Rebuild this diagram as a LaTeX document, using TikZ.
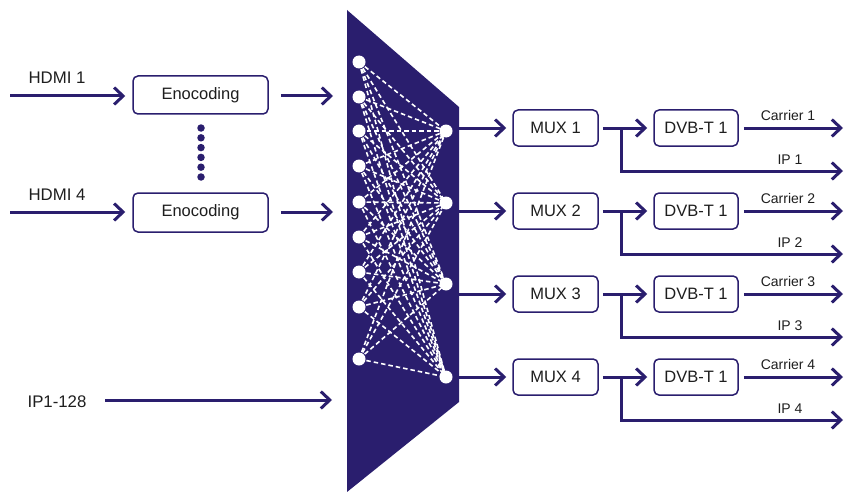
\documentclass[tikz,border=0pt]{standalone}
\usepackage{fontspec}
\setmainfont{Liberation Sans}
\usetikzlibrary{arrows.meta}
\definecolor{navy}{RGB}{42,30,110}
\definecolor{txt}{RGB}{30,30,30}
\tikzset{
  arr/.style={navy, line width=3pt, -{Straight Barb[length=9pt,width=17pt]}},
  box/.style={draw=navy, line width=1.5pt, rounded corners=5pt, fill=white, inner sep=0pt,
     text=txt, font=\fontsize{16.5}{18}\selectfont},
  encbox/.style={box, minimum width=135pt, minimum height=38pt},
  muxbox/.style={box, minimum width=85pt, minimum height=36pt},
  lbl/.style={text=txt, font=\fontsize{16.8}{18}\selectfont, inner sep=0pt},
  slbl/.style={text=txt, font=\fontsize{14}{16}\selectfont, inner sep=0pt},
  wdot/.style={circle, fill=white, minimum size=13pt, inner sep=0pt},
  vdot/.style={circle, fill=navy, minimum size=7.5pt, inner sep=0pt},
  mesh/.style={white, line width=1.6pt, dash pattern=on 4.5pt off 3pt}
}
\begin{document}
\begin{tikzpicture}[x=1pt,y=-1pt]
\useasboundingbox (0,0) rectangle (845,492);
% matrix trapezoid
\fill[navy] (347,10) -- (459,107) -- (459,402) -- (347,492) -- cycle;
% dot positions
\foreach \i/\y in {1/62,2/97,3/131,4/166,5/202,6/237,7/272,8/307,9/359}
  \coordinate (cL\i) at (359,\y);
\foreach \j/\y in {1/131,2/203,3/284,4/377}
  \coordinate (cR\j) at (446,\y);
\foreach \i in {1,...,9}
  \foreach \j in {1,...,4}
    \draw[mesh] (cL\i) -- (cR\j);
\foreach \i in {1,...,9} \node[wdot] (L\i) at (cL\i) {};
\foreach \j in {1,...,4} \node[wdot] (R\j) at (cR\j) {};
% inputs
\node[lbl] (t1) at (57,78) {HDMI 1};
\node[lbl] (t4) at (57,195) {HDMI 4};
\node[lbl] (tip) at (57,402) {IP1-128};
\node[encbox] (e1) at (200.5,95) {Enocoding};
\node[encbox, minimum height=39pt] (e4) at (200.5,212.5) {Enocoding};
\coordinate (h1) at (10,96);
\coordinate (h4) at (10,212);
\coordinate (o1) at (333,96);
\coordinate (o4) at (333,212);
\coordinate (ips) at (105,400);
\coordinate (ipe) at (332,400);
\draw[arr, shorten >=7pt] (h1) -- (h1 -| e1.west);
\draw[arr, shorten >=7pt] (h4) -- (h4 -| e4.west);
\draw[arr, shorten <=12pt] (o1 -| e1.east) -- (o1);
\draw[arr, shorten <=12pt] (o4 -| e4.east) -- (o4);
\draw[arr] (ips) -- (ipe);
\foreach \k in {0,...,5}
  \node[vdot] (v\k) at (201,128+9.8*\k) {};
% outputs
\foreach \j/\y/\n in {1/128/1,2/211/2,3/294/3,4/377/4}{
  \node[muxbox] (m\j) at (555.5,\y) {MUX \n};
  \node[muxbox, minimum width=84pt] (d\j) at (696,\y) {DVB-T 1};
  \coordinate (b\j) at (621,\y);
  \coordinate (ce\j) at (843,\y);
  \coordinate (ie\j) at (843,\y+43);
  \draw[arr, shorten <=1pt, shorten >=6pt] (R\j.east |- m\j.west) -- (m\j.west);
  \draw[arr, shorten <=4pt, shorten >=6pt] (m\j.east) -- (d\j.west);
  \draw[arr] (b\j) |- (ie\j);
  \draw[arr, shorten <=5pt] (d\j.east) -- (ce\j);
  \node[slbl] (cl\j) at (788,\y-13) {Carrier \n};
  \node[slbl] (il\j) at (790,\y+32) {IP \n};
}
\end{tikzpicture}
\end{document}
